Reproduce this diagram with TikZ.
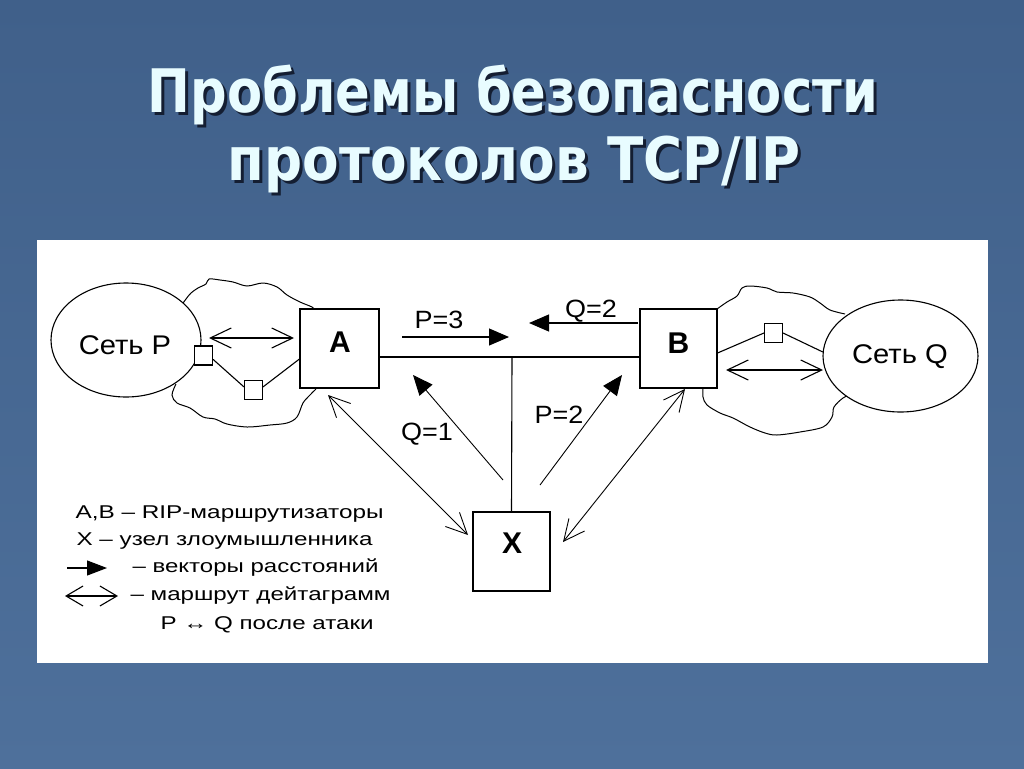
\documentclass[tikz,border=0pt]{standalone}
\usepackage{fontspec}
\usepackage{graphicx}
\setmainfont{Liberation Sans}
\newfontfamily\titlefont{DejaVu Sans}
\newfontfamily\lblfont[FakeStretch=1.08]{Liberation Sans}
\usetikzlibrary{arrows.meta,shapes.geometric}
\definecolor{bgtop}{RGB}{64,96,138}
\definecolor{bgbot}{RGB}{78,112,155}
\definecolor{titlecol}{RGB}{232,252,255}
\definecolor{shadowcol}{RGB}{20,30,50}
\begin{document}
\begin{tikzpicture}[x=1pt,y=-1pt,line width=1.1pt,
  rbox/.style={draw,fill=white,minimum width=78pt,minimum height=79pt,inner sep=0pt},
  sq/.style={draw,fill=white,minimum width=18pt,minimum height=19pt,inner sep=0pt},
  net/.style={ellipse,draw,fill=white,inner sep=0pt},
  vec/.style={-{Triangle[length=20pt,width=17pt]}},
  dbl/.style={{Straight Barb[length=21pt,width=20pt]}-{Straight Barb[length=21pt,width=20pt]}},
  lbl/.style={inner sep=0pt,font=\lblfont\fontsize{25}{30}\selectfont},
  netlbl/.style={inner sep=0pt,font=\lblfont\fontsize{27}{32}\selectfont},
  boxlbl/.style={inner sep=0pt,font=\bfseries\fontsize{30}{36}\selectfont},
  leg/.style={inner sep=0pt,anchor=west,font=\fontsize{18.5}{22}\selectfont},
  ttl/.style={inner sep=0pt,anchor=base,text=titlecol,font=\titlefont\bfseries\fontsize{60}{72}\selectfont},
  ttlsh/.style={ttl,text=shadowcol},
  cloud/.style={line width=1pt}]
\useasboundingbox (0,0) rectangle (1024,768);
\shade[top color=bgtop,bottom color=bgbot] (0,0) rectangle (1024,768);

% title (with its drop shadow)
\node[ttlsh] (t1s) at (516,115) {\resizebox{730pt}{\height}{Проблемы безопасности}};
\node[ttl] (t1) at (513,112) {\resizebox{730pt}{\height}{Проблемы безопасности}};
\node[ttlsh] (t2s) at (517,183) {\resizebox{572pt}{\height}{протоколов TCP/IP}};
\node[ttl] (t2) at (514,180) {\resizebox{572pt}{\height}{протоколов TCP/IP}};

% white panel
\node[fill=white,minimum width=951pt,minimum height=423pt,inner sep=0pt] (panel) at (512.5,451.5) {};

% clouds
\draw[cloud] plot[smooth,tension=0.55] coordinates {(181,306) (186,299) (191,293) (198,288) (206,284) (209,279) (220,280) (233,282) (247,286) (263,283) (277,287) (287,295) (300,302) (312,307) (315,310)};
\draw[cloud] plot[smooth,tension=0.55] coordinates {(176,384) (172,395) (177,403) (190,408) (203,417) (215,419) (227,424) (247,427) (270,425) (287,423) (297,417) (303,403) (310,395) (316,389)};
\draw[cloud] plot[smooth,tension=0.55] coordinates {(717,309) (727,302) (737,296) (742,288) (750,286) (767,288) (777,292) (793,293) (810,297) (820,303) (830,310) (845,314)};
\draw[cloud] plot[smooth,tension=0.55] coordinates {(703,388) (703,397) (707,405) (720,413) (733,418) (750,427) (765,433) (777,435) (800,432) (823,427) (832,417) (834,407) (843,398) (852,394)};

% networks
\node[net,minimum width=150pt,minimum height=114pt] (P) at (126,340) {};
\node[netlbl] (Plbl) at (125,345) {Сеть P};
\node[net,minimum width=155pt,minimum height=112pt] (Q) at (900.5,356) {};
\node[netlbl] (Qlbl) at (900,357) {Сеть Q};

% routers
\node[rbox,minimum width=79pt] (A) at (339.5,348.5) {};
\node[boxlbl] (Albl) at (340,342) {A};
\node[rbox,minimum width=77pt] (B) at (678.5,348.5) {};
\node[boxlbl] (Blbl) at (678.5,343) {B};
\node[rbox,minimum width=77pt] (X) at (511.5,551.5) {};
\node[boxlbl] (Xlbl) at (512,543) {X};

% small squares
\node[sq] (s1) at (203.5,355.5) {};
\node[sq] (s2) at (253.5,390) {};
\node[sq] (s3) at (773.5,333) {};

\draw (s1.-22) -- (s2.162);
\draw (s2.18) -- ([yshift=-10.5pt]A.west);
\draw ([yshift=-4.5pt]B.east) -- (s3.west);
\draw (s3.east) -- (Q.177);

% bus
\coordinate (J) at (512,357);
\draw ([yshift=-8.5pt]A.east) -- ([yshift=-8.5pt]B.west);
\draw (J) -- (X.north);

% datagram routes
\coordinate (pa1) at (209,338);
\coordinate (pa2) at (294,338);
\draw[dbl] (pa1) -- (pa2);
\coordinate (bq1) at (726,370);
\coordinate (bq2) at (823,370);
\draw[dbl] (bq1) -- (bq2);
\coordinate (ax1) at (328,395);
\coordinate (ax2) at (468,535);
\draw[dbl,line width=0.9pt] (ax1) -- (ax2);
\coordinate (bx1) at (685,389);
\coordinate (bx2) at (563,542);
\draw[dbl,line width=0.9pt] (bx1) -- (bx2);

% distance vectors
\coordinate (p3a) at (402,337);
\coordinate (p3b) at (509,337);
\draw[vec] (p3a) -- (p3b);
\coordinate (q2a) at (638,323);
\coordinate (q2b) at (529,323);
\draw[vec] (q2a) -- (q2b);
\coordinate (q1a) at (503,480);
\coordinate (q1b) at (413,375);
\draw[vec,line width=0.9pt] (q1a) -- (q1b);
\coordinate (p2a) at (540,485);
\coordinate (p2b) at (622,375);
\draw[vec,line width=0.9pt] (p2a) -- (p2b);

\node[lbl] (lp3) at (439,320) {P=3};
\node[lbl] (lq2) at (591,311) {Q=2};
\node[lbl] (lq1) at (427,434) {Q=1};
\node[lbl] (lp2) at (559,415) {P=2};

% legend
\node[leg] (g1) at (75,514) {\resizebox{308pt}{\height}{A,B – RIP-маршрутизаторы}};
\node[leg] (g2) at (76,541) {\resizebox{296pt}{\height}{X – узел злоумышленника}};
\coordinate (ga1) at (67,568);
\coordinate (ga2) at (107,568);
\draw[-{Triangle[length=20pt,width=15pt]}] (ga1) -- (ga2);
\node[leg] (g3) at (132,568) {\resizebox{246pt}{\height}{– векторы расстояний}};
\coordinate (gd1) at (65,596);
\coordinate (gd2) at (118,596);
\draw[{Straight Barb[length=17pt,width=20pt]}-{Straight Barb[length=17pt,width=20pt]}] (gd1) -- (gd2);
\node[leg] (g4) at (130,596) {\resizebox{260pt}{\height}{– маршрут дейтаграмм}};
\node[leg] (g5) at (160,625) {\resizebox{213pt}{\height}{P ↔ Q после атаки}};
\end{tikzpicture}
\end{document}
